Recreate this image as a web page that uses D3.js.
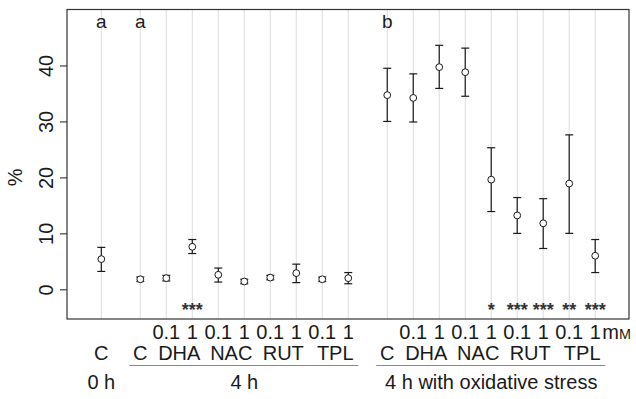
<!DOCTYPE html>
<html>
<head>
<meta charset="utf-8">
<script src="https://cdn.jsdelivr.net/npm/d3@7"></script>
<style>
  body { margin: 0; background: #fff; }
  svg { display: block; font-family: 'Liberation Sans', Arial, sans-serif; }
</style>
</head>
<body>
<div class="chart"></div>
<script>
// one entry per measured condition, left to right
const GROUPS = ['0 h', '4 h', '4 h', '4 h', '4 h', '4 h', '4 h', '4 h', '4 h', '4 h',
  '4 h with oxidative stress', '4 h with oxidative stress', '4 h with oxidative stress',
  '4 h with oxidative stress', '4 h with oxidative stress', '4 h with oxidative stress',
  '4 h with oxidative stress', '4 h with oxidative stress', '4 h with oxidative stress']
const TREATMENTS = ['C', 'C', 'DHA', 'DHA', 'NAC', 'NAC', 'RUT', 'RUT', 'TPL', 'TPL',
  'C', 'DHA', 'DHA', 'NAC', 'NAC', 'RUT', 'RUT', 'TPL', 'TPL']
const DOSES = ['', '', '0.1', '1', '0.1', '1', '0.1', '1', '0.1', '1',
  '', '0.1', '1', '0.1', '1', '0.1', '1', '0.1', '1']
const MEANS = [5.4, 1.8, 2.0, 7.6, 2.6, 1.4, 2.1, 2.9, 1.8, 2.0,
  34.7, 34.2, 39.7, 38.8, 19.6, 13.2, 11.8, 18.9, 6.0]
const LOWER = [3.2, 1.4, 1.5, 6.4, 1.3, 1.0, 1.7, 1.2, 1.4, 1.0,
  30.0, 29.9, 35.9, 34.5, 13.9, 10.0, 7.3, 10.0, 3.0]
const UPPER = [7.5, 2.2, 2.5, 8.9, 3.8, 1.8, 2.5, 4.5, 2.2, 3.0,
  39.5, 38.5, 43.6, 43.1, 25.3, 16.4, 16.2, 27.6, 8.9]
const STARS = ['', '', '', '***', '', '', '', '', '', '',
  '', '', '', '', '*', '***', '***', '**', '***']
const LETTERS = ['a', 'a', '', '', '', '', '', '', '', '',
  'b', '', '', '', '', '', '', '', '']
const Y_TICKS = [0, 10, 20, 30, 40]
const Y_LABEL = '%'

const WIDTH = 636
const HEIGHT = 399
const margin = {top: 9.5, right: 7, bottom: 80, left: 67}
const FONT = 20
const INK = '#1a1a1a'

const groupNames = Array.from(new Set(GROUPS))
const data = MEANS.map((m, i) => ({
  group: GROUPS[i],
  treatment: TREATMENTS[i],
  dose: DOSES[i],
  mean: m,
  lo: LOWER[i],
  hi: UPPER[i],
  stars: STARS[i],
  letter: LETTERS[i],
  // half a slot of extra space between the three groups
  pos: i + groupNames.indexOf(GROUPS[i]) * 0.5
}))

const w = WIDTH - margin.left - margin.right
const h = HEIGHT - margin.top - margin.bottom

const x = d3.scaleLinear().domain([-1.32, 20.3]).range([0, w])
const y = d3.scaleLinear().domain([-5.3, 50]).range([h, 0])

const svg = d3.select('.chart').append('svg')
  .attr('width', WIDTH)
  .attr('height', HEIGHT)

const g = svg.append('g')
  .attr('transform', `translate(${margin.left},${margin.top})`)

// vertical grid at each condition
g.append('g').attr('class', 'grid')
  .selectAll('line').data(data).join('line')
  .attr('x1', d => x(d.pos)).attr('x2', d => x(d.pos))
  .attr('y1', 0).attr('y2', h)
  .attr('stroke', '#dcdcdc')
  .attr('stroke-width', 1)

// y axis
const axisY = g.append('g').attr('class', 'axis axis--y')
  .call(d3.axisLeft(y).tickValues(Y_TICKS).tickSizeOuter(0).tickSizeInner(7).tickPadding(6))
axisY.select('.domain').remove()
axisY.selectAll('.tick line').attr('stroke', INK)
axisY.selectAll('.tick text')
  .attr('font-size', FONT)
  .attr('fill', INK)
  .attr('transform', 'rotate(-90)')
  .attr('x', 0)
  .attr('y', -14)
  .attr('dy', 0)
  .attr('text-anchor', 'middle')

g.append('text')
  .attr('transform', `translate(${-45},${y(20)}) rotate(-90)`)
  .attr('text-anchor', 'middle')
  .attr('font-size', FONT)
  .attr('fill', INK)
  .text(Y_LABEL)

// error bars
const bars = g.append('g').attr('class', 'bars')
  .selectAll('g').data(data).join('g')
  .attr('stroke', INK)
  .attr('stroke-width', 1.2)
bars.append('line')
  .attr('x1', d => x(d.pos)).attr('x2', d => x(d.pos))
  .attr('y1', d => y(d.lo)).attr('y2', d => y(d.hi))
bars.append('line')
  .attr('x1', d => x(d.pos) - 4).attr('x2', d => x(d.pos) + 4)
  .attr('y1', d => y(d.lo)).attr('y2', d => y(d.lo))
bars.append('line')
  .attr('x1', d => x(d.pos) - 4).attr('x2', d => x(d.pos) + 4)
  .attr('y1', d => y(d.hi)).attr('y2', d => y(d.hi))

g.append('g').attr('class', 'points')
  .selectAll('circle').data(data).join('circle')
  .attr('cx', d => x(d.pos))
  .attr('cy', d => y(d.mean))
  .attr('r', 3.4)
  .attr('fill', '#fff')
  .attr('stroke', INK)
  .attr('stroke-width', 1)

// letters on top, stars at the bottom
g.append('g').selectAll('text').data(data.filter(d => d.letter)).join('text')
  .attr('x', d => x(d.pos))
  .attr('y', 18)
  .attr('text-anchor', 'middle')
  .attr('font-size', 19)
  .attr('fill', INK)
  .text(d => d.letter)

g.append('g').selectAll('text').data(data.filter(d => d.stars)).join('text')
  .attr('x', d => x(d.pos))
  .attr('y', h - 3)
  .attr('text-anchor', 'middle')
  .attr('font-size', 18)
  .attr('font-weight', 'bold')
  .attr('fill', '#333')
  .text(d => d.stars)

// frame
g.append('rect')
  .attr('width', w).attr('height', h)
  .attr('fill', 'none')
  .attr('stroke', '#333')
  .attr('stroke-width', 1.2)

// category labels below the frame
const lab = g.append('g').attr('class', 'labels')
  .attr('font-size', FONT)
  .attr('fill', INK)
  .attr('text-anchor', 'middle')

lab.selectAll('text.dose').data(data.filter(d => d.dose)).join('text')
  .attr('class', 'dose')
  .attr('x', d => x(d.pos))
  .attr('y', h + 20)
  .text(d => d.dose)

const unit = lab.append('text')
  .attr('x', x(data[data.length - 1].pos) + 7)
  .attr('y', h + 20)
  .attr('text-anchor', 'start')
unit.append('tspan').text('m')
unit.append('tspan').attr('font-size', FONT * 0.72).text('M')

const treat = d3.groups(data, d => d.group, d => d.treatment)
  .flatMap(([grp, list]) => list.map(([t, pts]) => ({
    label: t,
    pos: d3.mean(pts, p => p.pos)
  })))

lab.selectAll('text.treat').data(treat).join('text')
  .attr('class', 'treat')
  .attr('x', d => x(d.pos))
  .attr('y', h + 41)
  .text(d => d.label)

const grp = d3.groups(data, d => d.group).map(([name, pts]) => ({
  name,
  min: d3.min(pts, p => p.pos),
  max: d3.max(pts, p => p.pos),
  n: pts.length
}))

lab.selectAll('line.under').data(grp.filter(d => d.n > 1)).join('line')
  .attr('class', 'under')
  .attr('x1', d => x(d.min) - 11).attr('x2', d => x(d.max) + 10)
  .attr('y1', h + 46.5).attr('y2', h + 46.5)
  .attr('stroke', '#888')
  .attr('stroke-width', 1)

lab.selectAll('text.grp').data(grp).join('text')
  .attr('class', 'grp')
  .attr('x', d => x((d.min + d.max) / 2))
  .attr('y', h + 70)
  .text(d => d.name)
</script>
</body>
</html>
